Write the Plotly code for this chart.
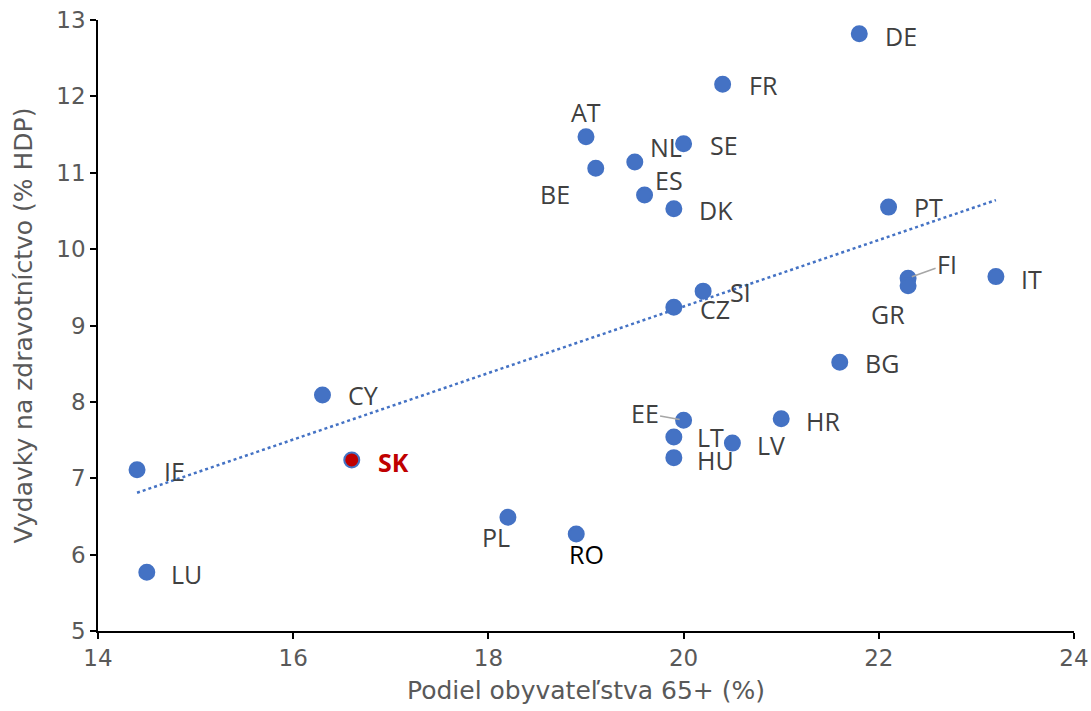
import numpy as np
import plotly.graph_objects as go

countries = ["DE", "FR", "AT", "SE", "NL", "BE", "ES", "DK", "PT", "FI", "GR", "IT", "SI", "CZ",
             "BG", "CY", "EE", "HR", "LT", "LV", "HU", "SK", "IE", "PL", "RO", "LU"]
pop65 = [21.8, 20.4, 19.0, 20.0, 19.5, 19.1, 19.6, 19.9, 22.1, 22.3, 22.3, 23.2, 20.2, 19.9,
         21.6, 16.3, 20.0, 21.0, 19.9, 20.5, 19.9, 16.6, 14.4, 18.2, 18.9, 14.5]
health = [12.82, 12.16, 11.47, 11.38, 11.14, 11.06, 10.71, 10.53, 10.55, 9.62, 9.52, 9.64, 9.45, 9.24,
          8.52, 8.09, 7.76, 7.78, 7.54, 7.46, 7.27, 7.24, 7.11, 6.49, 6.27, 5.77]

# label offsets in pixels (dx right, dy down) from the point
label_dx = [42, 41, 0, 40, 31, -41, 24, 42, 40, 39, -20, 36, 37, 41,
            42, 41, -39, 42, 37, 39, 42, 42, 37, -12, 10, 40]
label_dy = [2, 1, -25, 1, -15, 26, -15, 1, 0, -14, 28, 2, 1, 2,
            1, 0, -7, 2, 0, 2, 2, 2, 1, 20, 20, 2]
leader = ["FI", "EE"]

blue = "#4472C4"
fig = go.Figure()

# trendline (linear fit)
slope, intercept = np.polyfit(pop65, health, 1)
xs = np.array([min(pop65), max(pop65)])
fig.add_trace(go.Scatter(x=xs, y=slope * xs + intercept, mode="lines",
                         line=dict(color=blue, width=2.5, dash="dot"),
                         hoverinfo="skip", showlegend=False))

colors = ["#C00000" if c == "SK" else blue for c in countries]
fig.add_trace(go.Scatter(x=pop65, y=health, mode="markers", text=countries,
                         marker=dict(size=15, color=colors, line=dict(color=blue, width=2)),
                         showlegend=False))

for c, x, y, dx, dy in zip(countries, pop65, health, label_dx, label_dy):
    is_sk = c == "SK"
    font = dict(family="Open Sans, sans-serif", size=25,
                color="#C00000" if is_sk else ("#000000" if c == "RO" else "#404040"))
    text = f"<b>{c}</b>" if is_sk else c
    if c in leader:
        fig.add_annotation(x=x, y=y, text=text, showarrow=True, ax=dx, ay=dy,
                           arrowhead=0, arrowwidth=1.5, arrowcolor="#A6A6A6",
                           standoff=4, font=font)
    else:
        fig.add_annotation(x=x, y=y, text=text, showarrow=False,
                           xshift=dx, yshift=-dy, font=font)

tick_font = dict(family="DejaVu Sans, Verdana, sans-serif", size=23, color="#595959")
title_font = dict(family="DejaVu Sans, Verdana, sans-serif", size=25, color="#595959")
axis_common = dict(showgrid=False, zeroline=False, showline=True, linecolor="black",
                   linewidth=1.5, ticks="outside", ticklen=6, tickcolor="black", tickwidth=1.5,
                   tickfont=tick_font, mirror=False, automargin=False)

fig.update_layout(
    width=1091, height=711,
    margin=dict(l=98, r=17, t=20, b=80),
    plot_bgcolor="white", paper_bgcolor="white",
    xaxis=dict(range=[14, 24], dtick=2,
               title=dict(text="Podiel obyvateľstva 65+ (%)", standoff=11, font=title_font),
               **axis_common),
    yaxis=dict(range=[5, 13], dtick=1,
               title=dict(text="Vydavky na zdravotníctvo (% HDP)", standoff=17, font=title_font),
               **axis_common),
)

fig.write_html("out.html", config={"displayModeBar": False},
               post_script="document.body.style.margin='0';document.body.style.overflow='hidden';")
